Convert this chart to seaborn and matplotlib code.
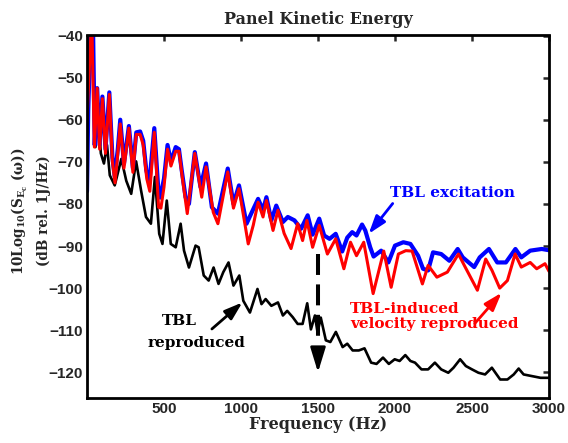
import matplotlib
matplotlib.use("Agg")
import matplotlib.pyplot as plt
import numpy as np
import pandas as pd
import seaborn as sns

# ---------------- data ----------------
blue_f = [0, 8, 22, 40, 50, 66, 82, 100, 120, 145, 165, 180, 200, 216, 240, 272, 298, 320, 345, 365,
          385, 405, 437, 462, 475, 500, 523, 545, 576, 597, 615, 640, 662, 700, 737, 773, 811, 850,
          914, 951, 987, 1036, 1070, 1111, 1143, 1165, 1197, 1229, 1272, 1304, 1347, 1390, 1433,
          1465, 1508, 1540, 1575, 1615, 1657, 1690, 1722, 1750, 1786, 1807, 1839, 1861, 1910, 1957,
          2000, 2054, 2100, 2150, 2182, 2215, 2247, 2300, 2353, 2407, 2440, 2514, 2550, 2610, 2664,
          2720, 2782, 2820, 2878, 2953, 3000]
blue_db = [-77, -58, -40, -40, -66, -52.5, -66, -54.5, -67, -53.5, -69, -73.5, -67, -60, -70.5, -61.5,
           -71.5, -63, -62.8, -65, -72, -75, -62, -76, -78.5, -74, -66, -70, -66.5, -67, -72, -78.4,
           -80, -67.7, -76, -70.4, -80.8, -82.3, -71.6, -80, -75.6, -84.7, -82, -78.8, -81.5, -78.4,
           -83.9, -80.4, -84.3, -83.1, -83.9, -85.9, -82.7, -87.3, -83.5, -87.5, -88.3, -87.1, -91.3,
           -88, -86.7, -87.5, -84.9, -86.3, -90.3, -92.5, -91.1, -93.9, -89.9, -89.1, -89.5, -92.3,
           -95.4, -95.8, -91.5, -91.9, -93.5, -90.7, -92.7, -95, -92.7, -90.7, -93.9, -93.9, -90.7,
           -92.7, -91.1, -90.7, -91]

red_f = [0, 10, 25, 33, 48, 66, 82, 100, 120, 145, 165, 182, 200, 216, 240, 272, 298, 320, 345, 365,
         388, 408, 437, 465, 480, 500, 523, 545, 576, 597, 620, 651, 700, 745, 773, 820, 850, 914,
         951, 987, 1047, 1080, 1111, 1143, 1165, 1208, 1240, 1280, 1325, 1368, 1400, 1428, 1465,
         1508, 1561, 1615, 1668, 1711, 1750, 1797, 1858, 1927, 1975, 2022, 2070, 2111, 2178, 2215,
         2272, 2340, 2412, 2450, 2535, 2589, 2630, 2680, 2730, 2780, 2820, 2878, 2920, 2974, 3000]
red_db = [-60, -52, -40, -40, -66.5, -52.5, -67, -55, -68, -54, -70, -75, -68, -61, -71.5, -62, -72.5,
          -63.5, -63.5, -66, -74, -77, -63, -80.8, -81, -76, -67, -71, -67.5, -67.5, -74, -82.3, -68,
          -78.4, -71.2, -82, -84.7, -72.4, -81, -76.4, -89.5, -85, -79.6, -83.1, -79.2, -86.3, -81.5,
          -87, -90.6, -84.7, -88.7, -83.9, -90.3, -85.1, -91.9, -88.3, -95.4, -89.1, -92.3, -89.1,
          -101.3, -91.2, -99.8, -91.9, -91.1, -91.2, -99, -94.6, -97.4, -96.2, -91.9, -94.6, -100.5,
          -93.1, -95.8, -100, -98.2, -91.9, -95, -93.9, -95.4, -94.2, -96]

black_f = [0, 10, 25, 40, 55, 70, 90, 110, 130, 148, 180, 223, 255, 287, 319, 351, 383, 415, 441, 469,
           490, 518, 544, 576, 608, 630, 662, 705, 725, 758, 790, 822, 854, 885, 919, 951, 989, 1015,
           1058, 1107, 1133, 1160, 1197, 1240, 1272, 1300, 1336, 1368, 1400, 1430, 1454, 1480, 1497,
           1518, 1551, 1580, 1616, 1660, 1690, 1725, 1765, 1802, 1845, 1880, 1922, 1960, 1998, 2030,
           2067, 2100, 2130, 2172, 2215, 2259, 2300, 2346, 2380, 2423, 2460, 2500, 2542, 2585, 2629,
           2683, 2730, 2771, 2803, 2835, 2890, 2945, 3000]
black_db = [-72, -55, -41, -45, -66.5, -58, -68, -70.4, -66, -73.2, -75.6, -69.3, -74.5, -77.6, -69.9,
            -76.8, -83.1, -84.7, -73.6, -87.1, -89.5, -79.2, -89.5, -90.3, -84.7, -91.1, -95.1, -89.9,
            -90.3, -97, -98.2, -95.1, -99, -96.2, -93.9, -99.4, -97, -103, -105.8, -100.2, -103.8,
            -102.6, -104.2, -103.4, -106.5, -105.4, -106.9, -108.5, -108.5, -103.6, -109.8, -106.5,
            -110.5, -107, -112.4, -112.8, -110.4, -114, -113.2, -114.8, -114.8, -114.3, -117.7, -118,
            -116.5, -118, -116.9, -117.3, -115.9, -117.3, -117.7, -119.3, -119.3, -117.7, -119.3,
            -120.1, -118.9, -116.9, -118.5, -119.3, -120.1, -120.5, -118.9, -121.7, -121.7, -120.5,
            -119.1, -120.5, -120.9, -121.3, -121.3]

x_ticks = [500, 1000, 1500, 2000, 2500, 3000]
y_ticks = [-40, -50, -60, -70, -80, -90, -100, -110, -120]

# ---------------- style ----------------
sns.set_style("white")
SERIF = "DejaVu Serif"
plt.rcParams["font.family"] = [SERIF, "DejaVu Sans"]
plt.rcParams["mathtext.fontset"] = "custom"
plt.rcParams["mathtext.rm"] = "DejaVu Serif:bold"
plt.rcParams["mathtext.it"] = "DejaVu Serif:bold"
plt.rcParams["mathtext.bf"] = "DejaVu Serif:bold"

L, R, T, B = 87, 549, 35.5, 397.6
fig = plt.figure(figsize=(5.68, 4.43), dpi=100)
ax = fig.add_axes([L / 568, 1 - B / 443, (R - L) / 568, (B - T) / 443])

series = [
    (black_f, black_db, "black", 1.9),
    (blue_f, blue_db, "#0000ff", 3.0),
    (red_f, red_db, "#ff0000", 2.2),
]
for f, db, col, lw in series:
    df = pd.DataFrame({"f": f, "db": db})
    sns.lineplot(data=df, x="f", y="db", color=col, linewidth=lw, ax=ax,
                 sort=False, estimator=None)

ax.set_xlim(0, 3000)
ax.set_ylim(-126, -40)
ax.set_xticks(x_ticks)
ax.set_yticks(y_ticks)
ax.tick_params(direction="in", length=4, width=1.8, top=True, right=True,
               labelsize=11, pad=3)
for lab in ax.get_xticklabels() + ax.get_yticklabels():
    lab.set_fontfamily("Liberation Sans")
    lab.set_fontweight("bold")
for s in ax.spines.values():
    s.set_linewidth(2)
    s.set_color("black")

ax.set_title("Panel Kinetic Energy", fontsize=11.5, fontweight="bold", pad=8)
ax.set_xlabel("Frequency (Hz)", fontsize=11.5, fontweight="bold", labelpad=0)
ax.set_ylabel("10Log$_{10}$(S$_{E_c}$ ($\\omega$))\n(dB rel. 1J/Hz)", fontsize=9.8,
              fontweight="bold", linespacing=1.6)
ax.yaxis.set_label_coords(-0.077, 0.515)

# ---------------- annotations ----------------
TXT = dict(fontsize=11, fontweight="bold")
ax.text(1966, -77.3, "TBL excitation", color="#0000ff", ha="left", va="center", **TXT)
ax.annotate("", xy=(1829, -87.1), xytext=(1985, -79.9),
            arrowprops=dict(arrowstyle="-|>,head_length=0.9,head_width=0.3", color="#0000ff",
                            lw=2, shrinkA=0, shrinkB=0, mutation_scale=12))

ax.text(1709, -103.3, "TBL-induced\nvelocity reproduced", color="#ff0000",
        ha="left", va="top", linespacing=1.1, **TXT)
ax.annotate("", xy=(2692, -101.1), xytext=(2518, -108.4),
            arrowprops=dict(arrowstyle="-|>,head_length=0.9,head_width=0.3", color="#ff0000",
                            lw=2, shrinkA=0, shrinkB=0, mutation_scale=12))

ax.text(597, -107.9, "TBL", color="black", ha="center", va="center", **TXT)
ax.text(713, -113.1, "reproduced", color="black", ha="center", va="center", **TXT)
ax.annotate("", xy=(1009, -103.4), xytext=(811, -109.7),
            arrowprops=dict(arrowstyle="-|>,head_length=0.9,head_width=0.3", color="black",
                            lw=2, shrinkA=0, shrinkB=0, mutation_scale=12))

ax.plot([1500, 1500], [-91.8, -111.3], color="black", lw=2.9, linestyle=(0, (5.2, 2.35)),
        dash_capstyle="butt")
ax.annotate("", xy=(1500, -120), xytext=(1500, -114.6),
            arrowprops=dict(arrowstyle="-|>,head_length=1.5,head_width=0.46", color="black",
                            lw=2, shrinkA=0, shrinkB=0, mutation_scale=10))

fig.savefig("out.png", dpi=100)
